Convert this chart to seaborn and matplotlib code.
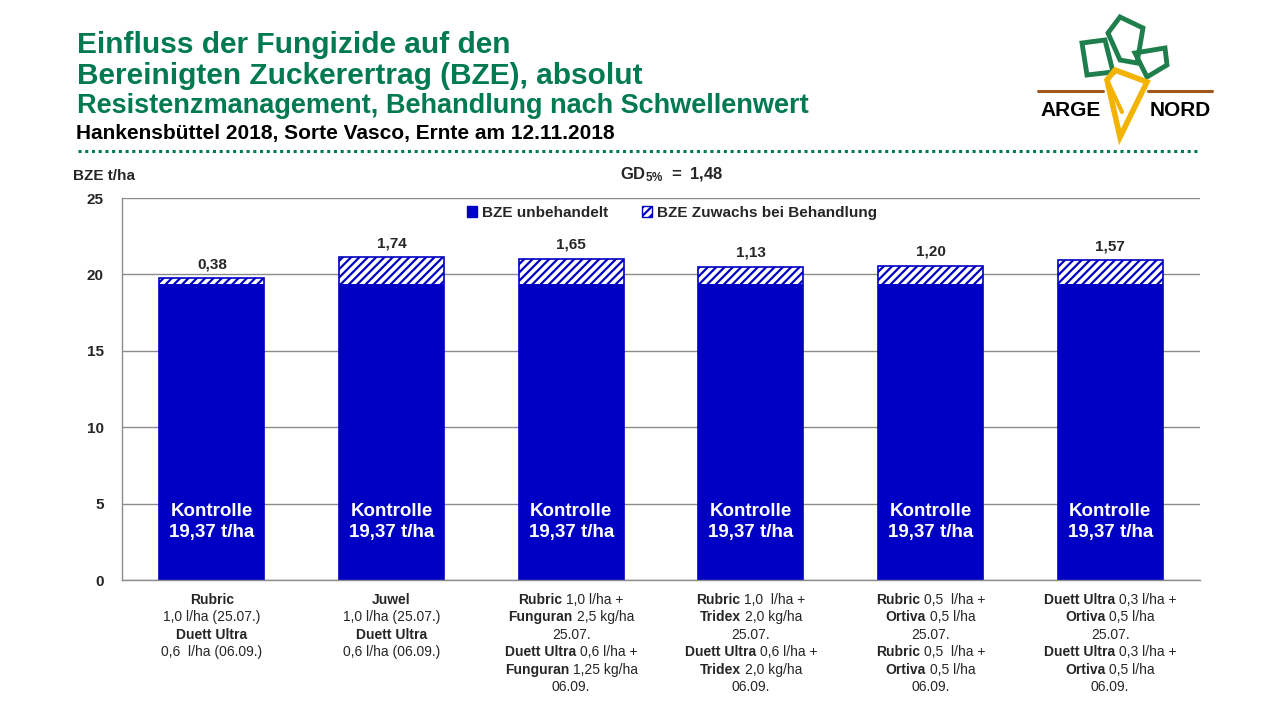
import numpy as np
import pandas as pd
import seaborn as sns
import matplotlib.pyplot as plt
from matplotlib.patches import Patch, Polygon
from matplotlib.lines import Line2D
from matplotlib.transforms import offset_copy

# data
variants = ['V1', 'V2', 'V3', 'V4', 'V5', 'V6']
base_yield = [19.37, 19.37, 19.37, 19.37, 19.37, 19.37]
gain = [0.38, 1.74, 1.65, 1.13, 1.20, 1.57]
gain_labels = ['0,38', '1,74', '1,65', '1,13', '1,20', '1,57']
y_ticks = [0, 5, 10, 15, 20, 25]

# tick label lines, bold parts between ** **
treatments = [
    ['**Rubric**', '1,0 l/ha (25.07.)', '**Duett Ultra**', '0,6  l/ha (06.09.)'],
    ['**Juwel**', '1,0 l/ha (25.07.)', '**Duett Ultra**', '0,6 l/ha (06.09.)'],
    ['**Rubric** 1,0 l/ha +', '**Funguran** 2,5 kg/ha', '25.07.',
     '**Duett Ultra** 0,6 l/ha +', '**Funguran** 1,25 kg/ha', '06.09.'],
    ['**Rubric** 1,0  l/ha +', '**Tridex** 2,0 kg/ha', '25.07.',
     '**Duett Ultra** 0,6 l/ha +', '**Tridex** 2,0 kg/ha', '06.09.'],
    ['**Rubric** 0,5  l/ha +', '**Ortiva** 0,5 l/ha', '25.07.',
     '**Rubric** 0,5  l/ha +', '**Ortiva** 0,5 l/ha', '06.09.'],
    ['**Duett Ultra** 0,3 l/ha +', '**Ortiva** 0,5 l/ha', '25.07.',
     '**Duett Ultra** 0,3 l/ha +', '**Ortiva** 0,5 l/ha', '06.09.'],
]

BLUE = '#0000C4'
GREEN = '#007A4E'
GRID = '#8C8C8C'

sns.set_style('white')
plt.rcParams['font.family'] = ['Liberation Sans', 'DejaVu Sans']
plt.rcParams['hatch.linewidth'] = 1.6
plt.rcParams['mathtext.fontset'] = 'custom'
plt.rcParams['mathtext.rm'] = 'Liberation Sans'
plt.rcParams['mathtext.bf'] = 'Liberation Sans:bold'

fig = plt.figure(figsize=(12.8, 7.2), dpi=100)
ax = fig.add_axes([122 / 1280, 140 / 720, 1078 / 1280, 382 / 720])

df = pd.DataFrame({'variant': variants, 'base': base_yield, 'gain': gain})
df['total'] = df['base'] + df['gain']

sns.barplot(data=df, x='variant', y='total', color='white', saturation=1,
            edgecolor=BLUE, linewidth=1.2, hatch='////', width=0.585, ax=ax)
sns.barplot(data=df, x='variant', y='base', color=BLUE, saturation=1,
            linewidth=0, width=0.585, ax=ax)

ax.set_xlim(-0.5, 5.5)
ax.set_ylim(0, 25)
ax.set_yticks(y_ticks)
ax.set_yticklabels([str(v) for v in y_ticks], fontsize=11, fontweight='bold')
ax.set_xticks(range(len(variants)))
ax.set_xticklabels([''] * len(variants))
ax.set_xlabel('')
ax.set_ylabel('')
ax.yaxis.grid(True, color=GRID, lw=1)
ax.set_axisbelow(True)
ax.tick_params(axis='y', length=7, color=GRID, width=1, pad=6)
ax.tick_params(axis='x', length=0)
for s in ['top', 'right']:
    ax.spines[s].set_visible(False)
for s in ['left', 'bottom']:
    ax.spines[s].set_color(GRID)
    ax.spines[s].set_linewidth(1)

# value labels and inner labels
for i, (b, g, lab) in enumerate(zip(base_yield, gain, gain_labels)):
    ax.annotate(lab, (i, b + g), xytext=(0, 5), textcoords='offset points',
                ha='center', va='bottom', fontsize=11, fontweight='bold')
    ax.text(i, 3.8, 'Kontrolle\n' + f'{b:.2f}'.replace('.', ',') + ' t/ha',
            ha='center', va='center', color='white', fontsize=13.5,
            fontweight='bold', linespacing=1.3)

# legend
handles = [Patch(facecolor=BLUE, edgecolor=BLUE),
           Patch(facecolor='white', edgecolor=BLUE, hatch='////')]
ax.legend(handles, ['BZE unbehandelt', 'BZE Zuwachs bei Behandlung'],
          loc='upper center', bbox_to_anchor=(0.51, 1.015), ncol=2,
          frameon=False, handlelength=0.7, handleheight=0.7,
          handletextpad=0.3, columnspacing=2.2,
          prop={'weight': 'bold', 'size': 11})

# x tick labels with mixed bold / normal text
renderer = fig.canvas.get_renderer()
for i, lines in enumerate(treatments):
    for j, line in enumerate(lines):
        parts = [p.strip() for p in line.split('**')]
        pieces = [(p, k % 2 == 1) for k, p in enumerate(parts) if p]
        texts = [ax.text(i, 0, p, fontsize=10, va='center', ha='left',
                         fontweight='bold' if bold else 'normal')
                 for p, bold in pieces]
        widths = [t.get_window_extent(renderer).width for t in texts]
        gap = 3.8
        cursor = -(sum(widths) + gap * (len(widths) - 1)) / 2
        for t, w in zip(texts, widths):
            t.set_transform(offset_copy(ax.transData, fig, x=cursor,
                                        y=-(20 + j * 17.4), units='dots'))
            cursor += w + gap

# titles
fig.text(77 / 1280, 1 - 45 / 720, 'Einfluss der Fungizide auf den',
         color=GREEN, fontsize=21.5, fontweight='bold', va='center')
fig.text(77 / 1280, 1 - 76 / 720, 'Bereinigten Zuckerertrag (BZE), absolut',
         color=GREEN, fontsize=21.5, fontweight='bold', va='center')
fig.text(77 / 1280, 1 - 106 / 720,
         'Resistenzmanagement, Behandlung nach Schwellenwert',
         color=GREEN, fontsize=19.5, fontweight='bold', va='center')
fig.text(76 / 1280, 1 - 134 / 720,
         'Hankensbüttel 2018, Sorte Vasco, Ernte am 12.11.2018',
         color='black', fontsize=15, fontweight='bold', va='center')
fig.add_artist(Line2D([78 / 1280, 1200 / 1280], [1 - 151 / 720] * 2,
                      color=GREEN, lw=2.2, ls=(0, (1, 1.2))))

fig.text(73 / 1280, 1 - 176 / 720, 'BZE t/ha', fontsize=11,
         fontweight='bold', va='center')
fig.text(620 / 1280, 1 - 175 / 720, r'$\mathbf{GD_{5\%}\ =\ 1{,}48}$',
         fontsize=12, va='center')

# logo
lax = fig.add_axes([1030 / 1280, 1 - 145 / 720, 190 / 1280, 135 / 720])
lax.set_xlim(1030, 1220)
lax.set_ylim(145, 10)
lax.axis('off')
leaf_color = '#1F7F4C'
leaves = [
    [(1082, 43), (1105, 40), (1113, 72), (1087, 75)],
    [(1108, 33), (1120, 17), (1143, 28), (1137, 63), (1120, 60)],
    [(1135, 53), (1165, 48), (1167, 65), (1147, 77)],
]
for pts in leaves:
    lax.add_patch(Polygon(pts, closed=True, fill=False, ec=leaf_color, lw=3.5))
lax.plot([1038, 1103], [91, 91], color='#A0581E', lw=2.2)
lax.plot([1148, 1212], [91, 91], color='#A0581E', lw=2.2)
lax.add_patch(Polygon([(1107, 80), (1115, 70), (1147, 82), (1120, 137)],
                      closed=True, fill=False, ec='#F2B400', lw=4))
lax.plot([1107, 1122], [80, 112], color='#F2B400', lw=3)
lax.text(1071, 110, 'ARGE', ha='center', va='center', fontsize=15,
         fontweight='heavy', color='black')
lax.text(1180, 110, 'NORD', ha='center', va='center', fontsize=15,
         fontweight='heavy', color='black')

fig.savefig('out.png', dpi=100)
